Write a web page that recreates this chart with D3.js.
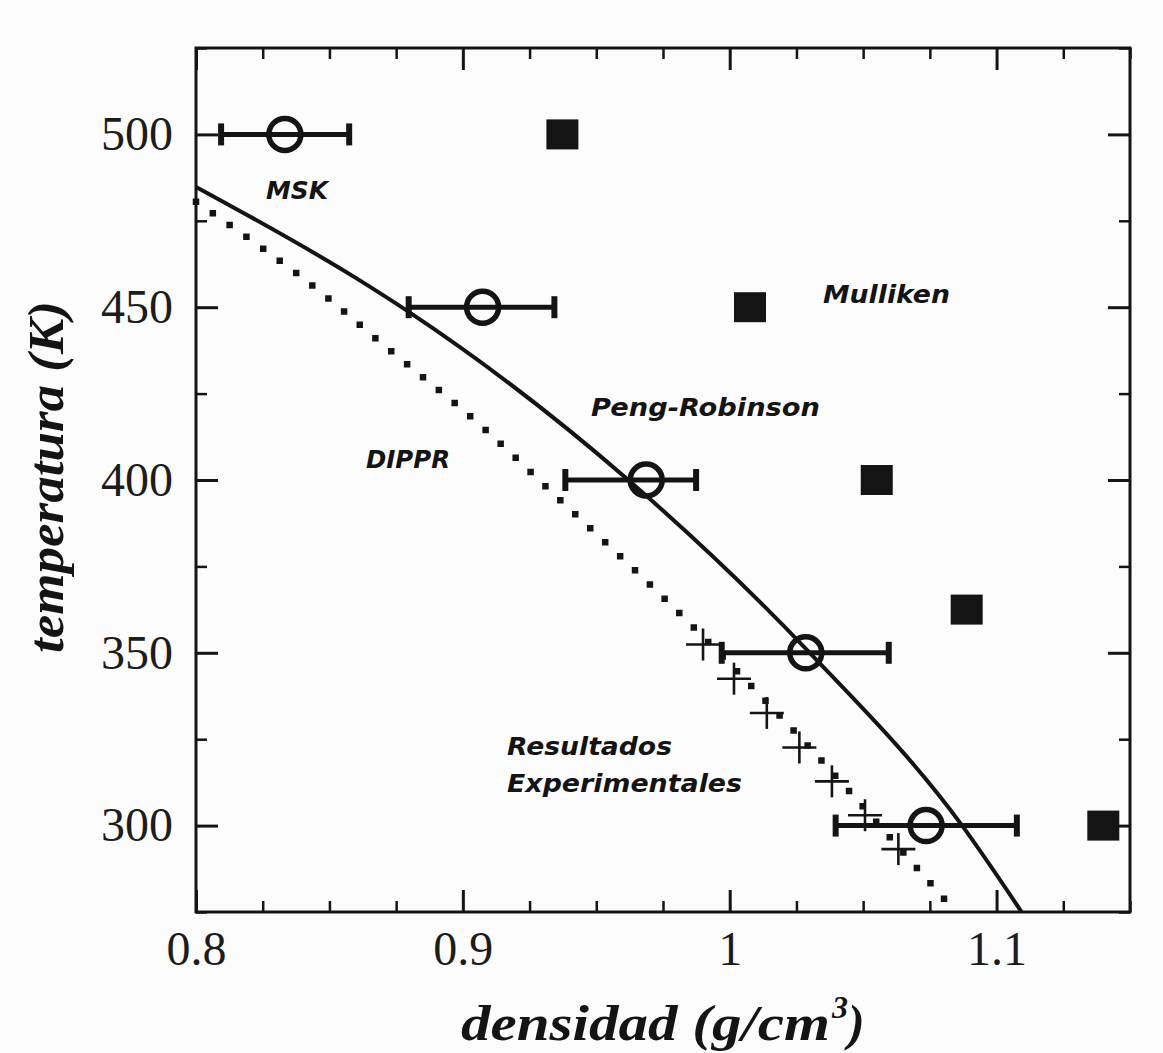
<!DOCTYPE html>
<html>
<head>
<meta charset="utf-8">
<script src="https://cdn.jsdelivr.net/npm/d3@7"></script>
<style>
  body { margin: 0; background: #fcfcfc; }
  svg { display: block; }
  .tick text { font-family: "Liberation Serif", "Times New Roman", serif; fill: #1c1c1c; }
  .lbl { font-family: "DejaVu Sans", sans-serif; font-weight: bold; font-style: italic; fill: #141414; }
  .title { font-family: "Liberation Serif", "Times New Roman", serif; font-weight: bold; font-style: italic; fill: #141414; }
</style>
</head>
<body>
<svg id="chart" width="1163" height="1053"></svg>
<script>
// MSK (circles with horizontal error bars)
const mskT = [500, 450, 400, 350, 300];
const mskD = [0.8333, 0.9074, 0.9687, 1.0285, 1.0736];
const mskLo = [0.8094, 0.8797, 0.9384, 0.9970, 1.0397];
const mskHi = [0.8574, 0.9343, 0.9874, 1.0596, 1.1076];

// Mulliken (filled squares)
const mullT = [500, 450, 400, 362.5, 300];
const mullD = [0.9373, 1.0076, 1.0551, 1.0888, 1.1400];

// Resultados experimentales (crosses)
const expT = [352.4, 342.5, 332.6, 322.6, 312.8, 303.0, 293.2];
const expD = [0.9900, 1.0016, 1.0139, 1.0261, 1.0383, 1.0507, 1.0632];

// Peng-Robinson (solid curve)
const prD = [0.800, 0.860, 0.880, 0.962, 1.030, 1.0871, 1.1094];
const prT = [484.8, 458.4, 448.5, 400, 350, 300, 275];

// DIPPR (dotted curve)
const dipD = [0.800, 0.850, 0.8676, 0.9075, 0.9348, 0.9836, 1.0453, 1.0597, 1.0845];
const dipT = [480.5, 452.3, 440.8, 415.2, 395.4, 359.6, 309.5, 296.9, 275.2];

const xMajor = [0.8, 0.9, 1.0, 1.1];
const xLabels = ['0.8', '0.9', '1', '1.1'];
const yMajor = [300, 350, 400, 450, 500];

const labels = [
	{ text: 'MSK', x: 266, y: 199, len: 62 },
	{ text: 'Mulliken', x: 823, y: 303, len: 127 },
	{ text: 'Peng-Robinson', x: 591, y: 416, len: 229 },
	{ text: 'DIPPR', x: 366, y: 468, len: 84 },
	{ text: 'Resultados', x: 507, y: 755, len: 165 },
	{ text: 'Experimentales', x: 507, y: 792, len: 235 }
];

const INK = '#141414';
const margin = { top: 48, right: 33, bottom: 141, left: 196 };
const width = 1163 - margin.left - margin.right;
const height = 1053 - margin.top - margin.bottom;

const $svg = d3.select('#chart');
const $g = $svg.append('g').attr('transform', `translate(${margin.left},${margin.top})`);

const x = d3.scaleLinear().domain([0.8, 1.15]).range([0, width]);
const y = d3.scaleLinear().domain([275, 525]).range([height, 0]);

const xMinor = d3.range(0.825, 1.151, 0.025).filter(v => !xMajor.some(m => Math.abs(m - v) < 1e-6));
const yMinor = d3.range(275, 526, 25).filter(v => yMajor.indexOf(v) < 0);

function styleAxis(sel, w) {
	sel.select('.domain').remove();
	sel.selectAll('.tick line').attr('stroke', INK).attr('stroke-width', w);
}

// minor ticks on all four sides
$g.append('g').attr('transform', `translate(0,${height})`)
	.call(d3.axisBottom(x).tickValues(xMinor).tickSize(-11).tickFormat(''))
	.call(styleAxis, 2.5);
$g.append('g')
	.call(d3.axisTop(x).tickValues(xMinor).tickSize(-11).tickFormat(''))
	.call(styleAxis, 2.5);
$g.append('g')
	.call(d3.axisLeft(y).tickValues(yMinor).tickSize(-11).tickFormat(''))
	.call(styleAxis, 2.5);
$g.append('g').attr('transform', `translate(${width},0)`)
	.call(d3.axisRight(y).tickValues(yMinor).tickSize(-11).tickFormat(''))
	.call(styleAxis, 2.5);

// major ticks
$g.append('g').attr('transform', `translate(0,${height})`)
	.call(d3.axisBottom(x).tickValues(xMajor).tickSize(-22).tickPadding(19)
		.tickFormat((d, i) => xLabels[i]))
	.call(styleAxis, 3)
	.call(s => s.selectAll('text').attr('font-size', 48));
$g.append('g')
	.call(d3.axisTop(x).tickValues(xMajor).tickSize(-22).tickFormat(''))
	.call(styleAxis, 3);
$g.append('g')
	.call(d3.axisLeft(y).tickValues(yMajor).tickSize(-22).tickPadding(23))
	.call(styleAxis, 3)
	.call(s => s.selectAll('text').attr('font-size', 48));
$g.append('g').attr('transform', `translate(${width},0)`)
	.call(d3.axisRight(y).tickValues(yMajor).tickSize(-22).tickFormat(''))
	.call(styleAxis, 3);

// frame
$g.append('rect')
	.attr('width', width).attr('height', height)
	.attr('fill', 'none').attr('stroke', INK).attr('stroke-width', 3);

const line = d3.line().x(d => x(d[0])).y(d => y(d[1])).curve(d3.curveMonotoneX);

// DIPPR
$g.append('path')
	.datum(dipD.map((d, i) => [d, dipT[i]]))
	.attr('d', line)
	.attr('fill', 'none')
	.attr('stroke', INK)
	.attr('stroke-width', 6.5)
	.attr('stroke-linecap', 'square')
	.attr('stroke-dasharray', '0 20.5');

// Peng-Robinson
$g.append('path')
	.datum(prD.map((d, i) => [d, prT[i]]))
	.attr('d', line)
	.attr('fill', 'none')
	.attr('stroke', INK)
	.attr('stroke-width', 4);

// experimental crosses
const $exp = $g.selectAll('.exp')
	.data(expD.map((d, i) => ({ d, t: expT[i] })))
	.join('g')
	.attr('class', 'exp')
	.attr('transform', p => `translate(${x(p.d)},${y(p.t)})`);
$exp.append('line').attr('x1', -17).attr('x2', 17)
	.attr('stroke', INK).attr('stroke-width', 2.6);
$exp.append('line').attr('y1', -16).attr('y2', 16)
	.attr('stroke', INK).attr('stroke-width', 2.6);

// Mulliken squares
$g.selectAll('.mull')
	.data(mullD.map((d, i) => ({ d, t: mullT[i] })))
	.join('rect')
	.attr('class', 'mull')
	.attr('x', p => x(p.d) - 16)
	.attr('y', p => y(p.t) - 15)
	.attr('width', 32)
	.attr('height', 30)
	.attr('fill', INK);

// MSK error bars and circles
const msk = mskD.map((d, i) => ({ d, t: mskT[i], lo: mskLo[i], hi: mskHi[i] }));
const $msk = $g.selectAll('.msk').data(msk).join('g').attr('class', 'msk');
$msk.append('line')
	.attr('x1', p => x(p.lo)).attr('x2', p => x(p.hi))
	.attr('y1', p => y(p.t)).attr('y2', p => y(p.t))
	.attr('stroke', INK).attr('stroke-width', 5);
$msk.append('line')
	.attr('x1', p => x(p.lo)).attr('x2', p => x(p.lo))
	.attr('y1', p => y(p.t) - 11).attr('y2', p => y(p.t) + 11)
	.attr('stroke', INK).attr('stroke-width', 6);
$msk.append('line')
	.attr('x1', p => x(p.hi)).attr('x2', p => x(p.hi))
	.attr('y1', p => y(p.t) - 11).attr('y2', p => y(p.t) + 11)
	.attr('stroke', INK).attr('stroke-width', 6);
$msk.append('circle')
	.attr('cx', p => x(p.d)).attr('cy', p => y(p.t))
	.attr('r', 16)
	.attr('fill', 'none')
	.attr('stroke', INK).attr('stroke-width', 5.5);

// series labels
$svg.selectAll('.lbl')
	.data(labels)
	.join('text')
	.attr('class', 'lbl')
	.attr('x', d => d.x).attr('y', d => d.y)
	.attr('font-size', 25)
	.attr('textLength', d => d.len)
	.attr('lengthAdjust', 'spacingAndGlyphs')
	.text(d => d.text);

// axis titles
$svg.append('text')
	.attr('class', 'title')
	.attr('transform', 'translate(63,477) rotate(-90)')
	.attr('text-anchor', 'middle')
	.attr('font-size', 50)
	.attr('textLength', 352)
	.attr('lengthAdjust', 'spacingAndGlyphs')
	.text('temperatura (K)');

$svg.append('text')
	.attr('class', 'title')
	.attr('x', 461).attr('y', 1040)
	.attr('font-size', 50)
	.attr('textLength', 369)
	.attr('lengthAdjust', 'spacingAndGlyphs')
	.text('densidad (g/cm');
$svg.append('text')
	.attr('class', 'title')
	.attr('x', 832).attr('y', 1018)
	.attr('font-size', 32)
	.text('3');
$svg.append('text')
	.attr('class', 'title')
	.attr('x', 848).attr('y', 1040)
	.attr('font-size', 50)
	.text(')');
</script>
</body>
</html>
